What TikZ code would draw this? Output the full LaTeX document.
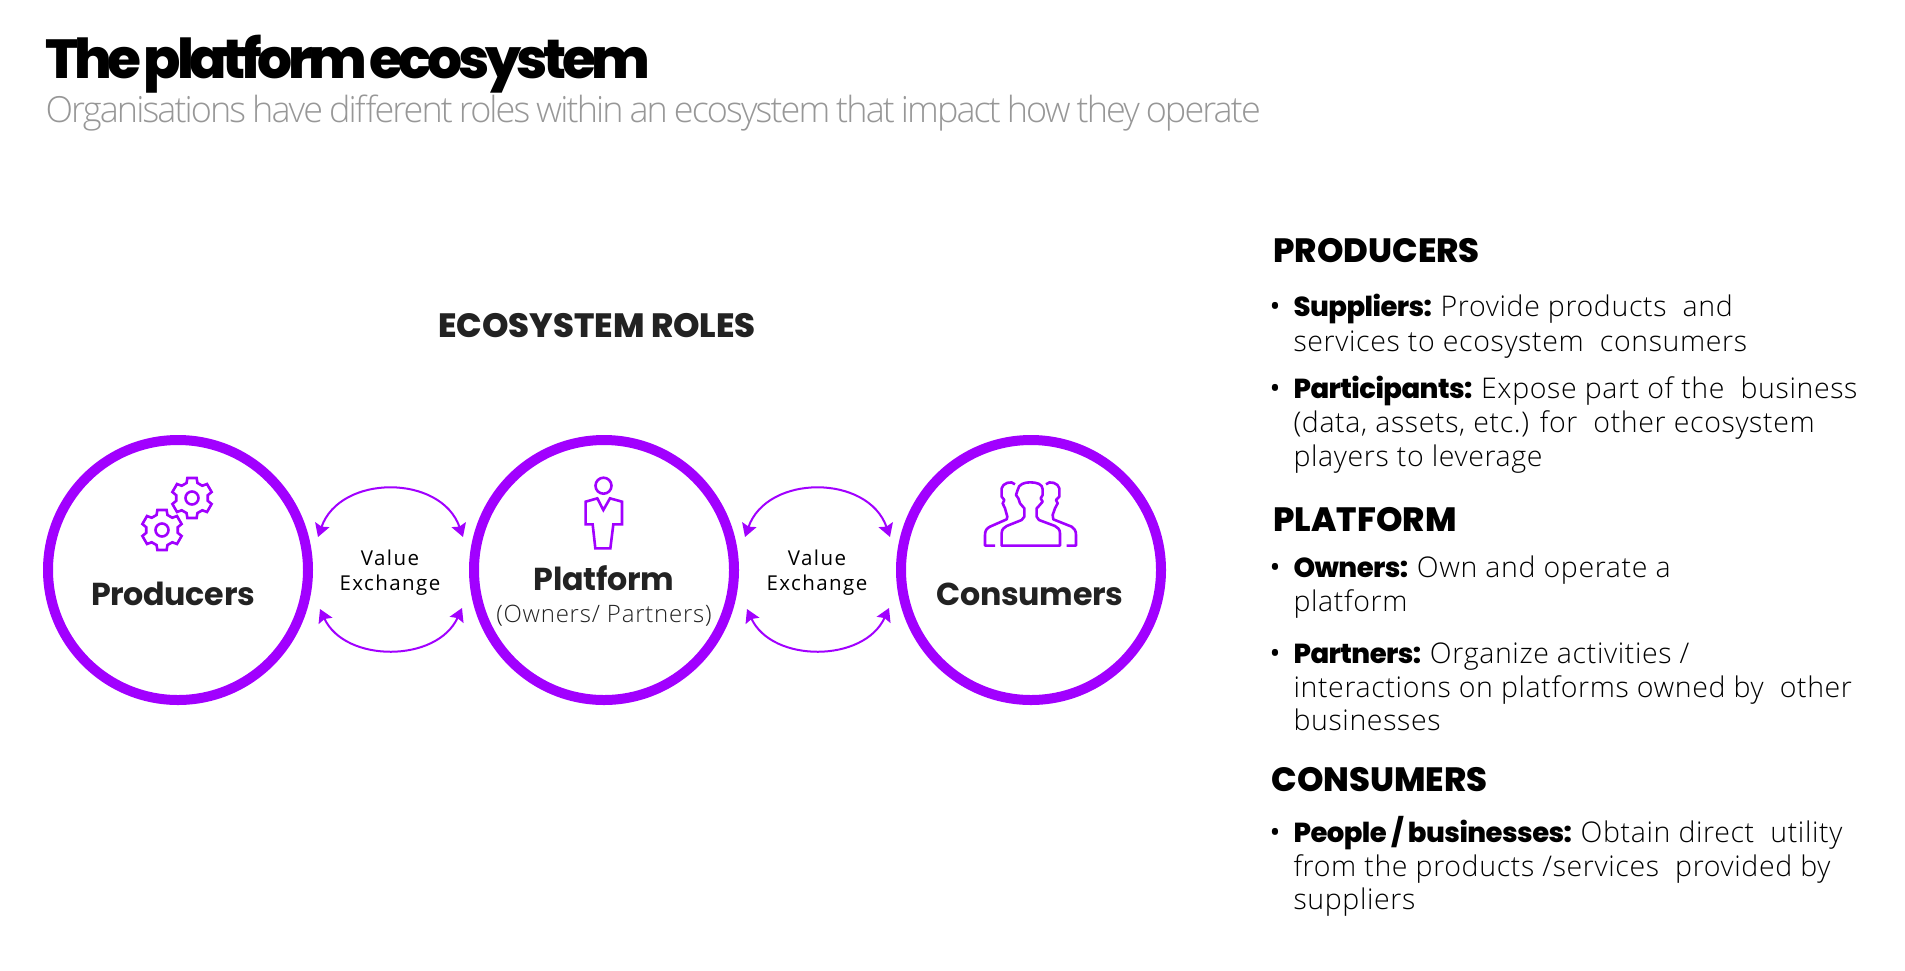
\documentclass[tikz,border=0pt]{standalone}
\usepackage{fontspec}
\usetikzlibrary{arrows.meta}
\setmainfont{Open Sans}
\newfontfamily\heavy[LetterSpace=-8,WordSpace=0.4]{Poppins}[UprightFont=*-ExtraBold]
\newfontfamily\headf[LetterSpace=0]{Poppins}[UprightFont=*-ExtraBold]
\newfontfamily\namef[LetterSpace=-1]{Poppins}[UprightFont=*-Bold]
\newfontfamily\bldf[LetterSpace=-2]{Poppins}[UprightFont=*-ExtraBold]
\newfontfamily\subf[LetterSpace=-5.3,WordSpace=0.8]{Open Sans Light}
\newfontfamily\valf[LetterSpace=7]{Open Sans}
\newfontfamily\ownf[LetterSpace=3.2]{Open Sans Light}
\newfontfamily\bodyf[LetterSpace=2.2]{Open Sans Light}
\definecolor{acc}{HTML}{A100FF}
\definecolor{ink}{HTML}{222222}
\definecolor{sub}{HTML}{979797}
\newcommand{\fs}[1]{\fontsize{#1pt}{#1pt}\selectfont}
\newcommand{\gearshape}[2]{%
  \begin{scope}[shift={(#1,#2)}]
    \draw[icon] (70:16) \foreach \a in {90,150,...,390}{ -- ({\a-20}:16) -- ({\a-13}:20.5) -- ({\a+13}:20.5) -- ({\a+20}:16)} -- cycle;
    \draw[icon] (0,0) circle[radius=6.5pt];
  \end{scope}}
\tikzset{
  x=1pt,y=-1pt,
  role/.style={draw=acc,line width=10pt,circle,minimum size=260pt,inner sep=0pt},
  icon/.style={draw=acc,line width=2.6pt,line join=miter},
  swap/.style={draw=acc,line width=2pt,{Stealth[length=13pt,width=15pt,inset=2pt]}-{Stealth[length=13pt,width=15pt,inset=2pt]}},
  rolename/.style={anchor=base,text=ink,font=\namef\fs{31.7}},
  vx/.style={anchor=base,text=black,font=\valf\fs{20.5}},
  headline/.style={anchor=base west,text=black,font=\headf\fs{33.7}},
  body/.style={anchor=base west,text=black,font=\bodyf\fs{28.5}},
  dot/.style={anchor=base west,text=black,font=\rmfamily\fs{29}},
}
\newcommand{\bld}[1]{{\bldf\fs{27.5}#1}\hspace{-2pt}}
\begin{document}
\begin{tikzpicture}
\useasboundingbox (0,0) rectangle (1905,970);
\node[anchor=base west,text=black,font=\heavy\fs{55}] (title) at (42,78) {The platform ecosystem};
\node[anchor=base west,text=sub,font=\subf\fs{36}] (subtitle) at (42,122) {Organisations have different roles within an ecosystem that impact how they operate};
\node[anchor=base,text=ink,font=\headf\fs{33.7}] (rolesh) at (597,337) {ECOSYSTEM ROLES};
\node[role] (prod) at (178,570) {};
\node[role] (plat) at (604,570) {};
\node[role] (cons) at (1031,570) {};
\node[rolename] (prodt) at (173,605) {Producers};
\node[rolename] (platt) at (604,590) {Platform};
\node[anchor=base,text=ink,font=\ownf\fs{24}] (plats) at (604,622) {(Owners/ Partners)};
\node[rolename] (const) at (1030,605) {Consumers};
\node[vx] (v1a) at (390,565) {Value};
\node[vx] (v1b) at (390,590) {Exchange};
\node[vx] (v2a) at (817,565) {Value};
\node[vx] (v2b) at (817,590) {Exchange};
\coordinate (a1) at (318,537); \coordinate (a2) at (463,537);
\coordinate (b1) at (320,609); \coordinate (b2) at (462,608);
\coordinate (c1) at (745,537); \coordinate (c2) at (890,537);
\coordinate (d1) at (747,609); \coordinate (d2) at (889,608);
\draw[swap] (a1) .. controls (340,474) and (441,474) .. (a2);
\draw[swap] (b1) .. controls (345,663) and (437,663) .. (b2);
\draw[swap] (c1) .. controls (767,474) and (868,474) .. (c2);
\draw[swap] (d1) .. controls (772,663) and (864,663) .. (d2);
\gearshape{162}{530}
\gearshape{192}{498}
\draw[icon] (603.5,485.7) circle[radius=8pt];
\begin{scope}[shift={(570,465)},x=0.3333pt,y=-0.3333pt]
  \draw[icon] (82,100) -- (100,135) -- (120,100) -- (156,110) -- (156,178) -- (130,178) -- (121,250) -- (76,250) -- (68,178) -- (47,178) -- (47,110) -- cycle;
\end{scope}
\begin{scope}[shift={(890,420)},x=0.3333pt,y=-0.3333pt]
  \draw[icon,line join=round] (335,377) -- (335,340) .. controls (335,328) and (342,322) .. (350,318) -- (395,300) -- (403,290) -- (403,265) -- (390,250) -- (385,235) -- (378,225) -- (383,210) .. controls (385,192) and (405,187) .. (420,187) .. controls (440,187) and (458,192) .. (458,208) -- (458,225) -- (452,235) -- (458,245) -- (445,260) -- (440,265) -- (440,290) -- (447,300) -- (495,318) .. controls (503,322) and (510,328) .. (510,340) -- (510,377) -- cycle;
  \draw[icon,line join=round] (315,377) -- (285,377) -- (285,345) .. controls (285,332) and (290,325) .. (300,320) -- (350,298) -- (352,290) -- (345,265) -- (338,250) -- (343,240) -- (335,230) -- (335,205) .. controls (337,190) and (365,180) .. (375,193);
  \draw[icon,line join=round] (530,377) -- (558,377) -- (558,345) .. controls (558,332) and (553,325) .. (545,320) -- (490,298) -- (488,285) -- (495,265) -- (503,250) -- (498,240) -- (508,230) -- (508,205) .. controls (506,190) and (478,180) .. (468,193);
\end{scope}
\node[headline] (h1) at (1270,262) {PRODUCERS};
\node[dot] (d1x) at (1266,316) {•};
\node[body] (l1) at (1290,316) {\bld{Suppliers:} Provide products~ and};
\node[body] (l2) at (1290,351) {services to ecosystem~ consumers};
\node[dot] (d2x) at (1266,398) {•};
\node[body] (l3) at (1290,398) {\bld{Participants:} Expose part of the~ business};
\node[body] (l4) at (1290,432) {(data, assets, etc.) for~ other ecosystem};
\node[body] (l5) at (1290,466) {players to leverage};
\node[headline] (h2) at (1270,531) {PLATFORM};
\node[dot] (d3x) at (1266,577) {•};
\node[body] (l6) at (1290,577) {\bld{Owners:} Own and operate a};
\node[body] (l7) at (1290,611) {platform};
\node[dot] (d4x) at (1266,663) {•};
\node[body] (l8) at (1290,663) {\bld{Partners:} Organize activities /};
\node[body] (l9) at (1290,697) {interactions on platforms owned by~ other};
\node[body] (l10) at (1290,730) {businesses};
\node[headline] (h3) at (1268,791) {CONSUMERS};
\node[dot] (d5x) at (1266,842) {•};
\node[body] (l11) at (1290,842) {\bld{People / businesses:} Obtain direct~ utility};
\node[body] (l12) at (1290,876) {from the products /services~ provided by};
\node[body] (l13) at (1290,909) {suppliers};
\end{tikzpicture}
\end{document}
